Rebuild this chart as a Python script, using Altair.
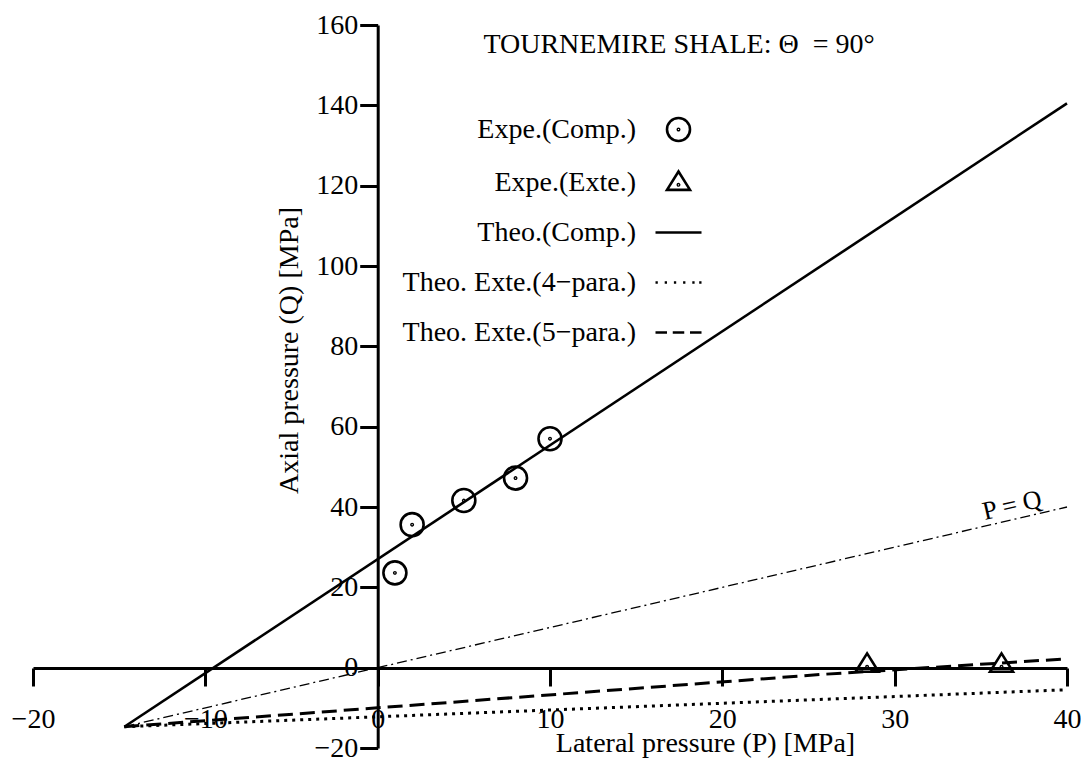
import altair as alt
import pandas as pd

# ---------------- data ----------------
series_names = ["Expe.(Comp.)", "Expe.(Exte.)", "Theo.(Comp.)",
                "Theo. Exte.(4\u2212para.)", "Theo. Exte.(5\u2212para.)"]

comp_P = [1, 2, 5, 8, 10]
comp_Q = [23.6, 35.6, 41.6, 47.2, 57.0]
ext_P = [28.4, 36.2]
ext_Q = [0.8, 0.8]

theo_comp_P = [-14.7, 40]
theo_comp_Q = [-14.7, 140.5]
theo4_P = [-14.7, 40]
theo4_Q = [-14.7, -5.5]
theo5_P = [-14.7, 0, 25.7, 40]
theo5_Q = [-14.7, -10.0, -1.7, 2.2]
pq_P = [-14.7, 40]
pq_Q = [-14.7, 40]

pq_label_P = [37]
pq_label_Q = [37]
pq_label = ["P = Q"]

x_ticks = [-20, -10, 0, 10, 20, 30, 40]
y_ticks = [-20, 0, 20, 40, 60, 80, 100, 120, 140, 160]
title_text = ["TOURNEMIRE SHALE: \u0398\u00a0 = 90\u00b0"]

FONT = "Liberation Serif, Times New Roman, serif"

# legend / marker symbol paths
circ = ("M-0.5,0A0.5,0.5,0,1,1,0.5,0A0.5,0.5,0,1,1,-0.5,0Z"
        "M-0.03,0A0.03,0.03,0,1,1,0.03,0A0.03,0.03,0,1,1,-0.03,0Z")
tri = ("M0,-0.48L0.5,0.32L-0.5,0.32Z"
       "M-0.03,0.1A0.03,0.03,0,1,1,0.03,0.1A0.03,0.03,0,1,1,-0.03,0.1Z")
solid = "M-1,0L1,0"
dotted = ("M-1,0h0.1M-0.6,0h0.1M-0.2,0h0.1M0.2,0h0.1M0.6,0h0.1M0.9,0h0.1")
dashed = "M-1,0h0.5M-0.25,0h0.5M0.5,0h0.5"
shape_range = [circ, tri, solid, dotted, dashed]

pts = pd.DataFrame({
    "P": comp_P + ext_P,
    "Q": comp_Q + ext_Q,
    "series": [series_names[0]] * len(comp_P) + [series_names[1]] * len(ext_P),
})

def line_df(p, q):
    return pd.DataFrame({"P": p, "Q": q})

xs = alt.Scale(domain=[-20, 40], nice=False, zero=False)
ys = alt.Scale(domain=[-20, 160], nice=False, zero=False)

x_enc = alt.X("P:Q", scale=xs, axis=alt.Axis(
    values=x_ticks, offset=-80, tickSize=18, labelPadding=33,
    labelBaseline="middle", labelFlush=False, labelOverlap=False,
    title="Lateral pressure (P) [MPa]", titleX=672, titleY=75,
    titleAlign="center", titleBaseline="middle"))
y_enc = alt.Y("Q:Q", scale=ys, axis=alt.Axis(
    values=y_ticks, offset=-344.7, tickSize=18, labelPadding=2,
    labelOverlap=False,
    title="Axial pressure (Q) [MPa]", titleX=-88, titleY=325,
    titleAngle=270, titleAlign="center", titleBaseline="middle"))

def make_line(p, q, width, dash=None):
    kw = dict(color="black", strokeWidth=width, clip=False)
    if dash is not None:
        kw["strokeDash"] = dash
    return alt.Chart(line_df(p, q)).mark_line(**kw).encode(x=x_enc, y=y_enc)

l_pq = make_line(pq_P, pq_Q, 1.3, [10, 4, 2, 4])
l_comp = make_line(theo_comp_P, theo_comp_Q, 2.6)
l_4 = make_line(theo4_P, theo4_Q, 3, [3, 5])
l_5 = make_line(theo5_P, theo5_Q, 3, [15, 7])

pq_text = alt.Chart(pd.DataFrame({"P": pq_label_P, "Q": pq_label_Q, "t": pq_label})).mark_text(
    font=FONT, fontSize=26, angle=347, dy=-14, color="black"
).encode(x=x_enc, y=y_enc, text="t:N")

title_mark = alt.Chart(pd.DataFrame({"t": title_text})).mark_text(
    font=FONT, fontSize=28, color="black", align="center", baseline="alphabetic"
).encode(x=alt.value(646), y=alt.value(28), text="t:N")

points = alt.Chart(pts).mark_point(
    filled=False, color="black", strokeWidth=2.6, size=2116, opacity=1
).encode(
    x=x_enc, y=y_enc,
    shape=alt.Shape("series:N",
                    scale=alt.Scale(domain=series_names, range=shape_range),
                    legend=alt.Legend(title=None, orient="none", legendX=621, legendY=80,
                                      padding=0, rowPadding=11,
                                      labelOffset={"expr": "-67"},
                                      labelAlign="right", labelFont=FONT, labelFontSize=28,
                                      labelColor="black", labelLimit=500,
                                      symbolSize=2116, symbolStrokeWidth=2.6,
                                      symbolStrokeColor="black",
                                      symbolFillColor="transparent")),
)

chart = alt.layer(l_pq, l_4, l_5, l_comp, points, pq_text, title_mark).properties(
    width=1034, height=723,
    padding={"left": 25, "top": 17, "right": 14, "bottom": 14},
    autosize=alt.AutoSizeParams(type="none"),
).configure_view(stroke=None).configure_axis(
    grid=False, domainColor="black", domainWidth=3, tickColor="black", tickWidth=3,
    labelFont=FONT, labelFontSize=28, labelColor="black",
    titleFont=FONT, titleFontSize=28, titleFontWeight="normal", titleColor="black",
)

chart.save("out.html", embed_options={"renderer": "svg", "actions": False})
